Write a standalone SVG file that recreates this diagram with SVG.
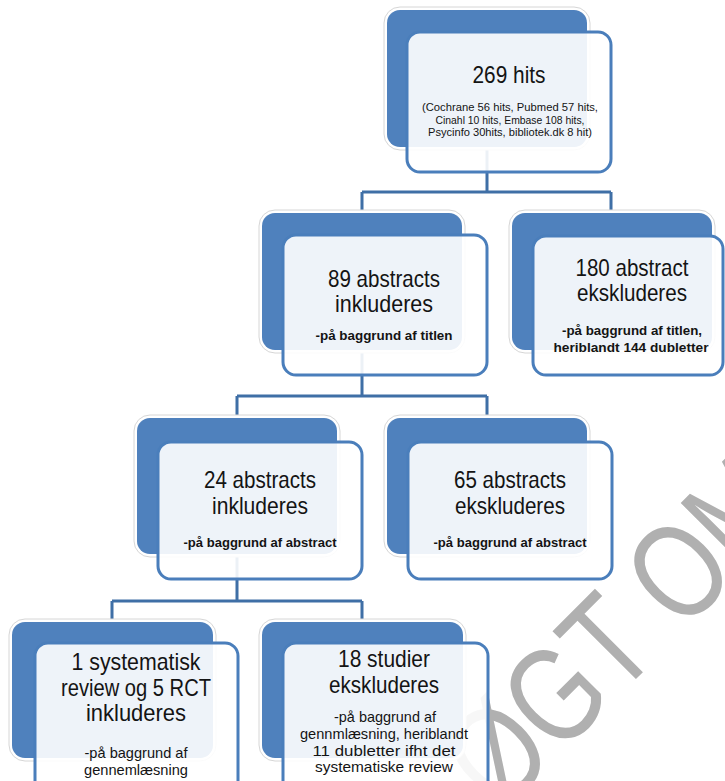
<svg xmlns="http://www.w3.org/2000/svg" width="725" height="781" viewBox="0 0 725 781">
<style>
.halo{fill:#fff;stroke:#d6d6d6;stroke-width:1}
.bg{fill:#4f81bd}
.fg{fill:#fff;fill-opacity:0.9;stroke:#4a7ebb;stroke-width:3}
.conn{fill:none;stroke:#3f6fa6;stroke-width:3}
text{font-family:"Liberation Sans",Arial,sans-serif;fill:#141414;text-anchor:middle}
.big{font-size:24px}
.sm{font-size:13.5px;font-weight:bold}
.sm2{font-size:15px}
.tiny{font-size:11px}
.wm{font-size:135px;fill:#b0b0b0;text-anchor:start}
</style>
<rect width="725" height="781" fill="#fff"/>
<text class="wm" x="0" y="0" transform="translate(500,815) rotate(-45)" textLength="428" lengthAdjust="spacingAndGlyphs">ØGT OM</text>
<g id="connectors">
<path class="conn" d="M487,147V192M362,192H611M362,192V213M611,192V213"/>
<path class="conn" d="M362,350V396M237,396H487M237,396V418M487,396V418"/>
<path class="conn" d="M237,554V601M112,601H362M112,601V622M362,601V622"/>
</g>
<g id="n1">
<rect class="halo" x="384" y="7" width="206" height="143" rx="16"/>
<rect class="bg" x="387" y="10" width="200" height="137" rx="13"/>
<rect class="fg" x="407" y="32" width="204" height="140" rx="13"/>
<text class="big" x="509" y="83" font-size="23" textLength="73" lengthAdjust="spacingAndGlyphs">269 hits</text>
<text class="tiny" x="510" y="111" textLength="176" lengthAdjust="spacingAndGlyphs">(Cochrane 56 hits, Pubmed 57 hits,</text>
<text class="tiny" x="510" y="123.5" textLength="149" lengthAdjust="spacingAndGlyphs">Cinahl 10 hits, Embase 108 hits,</text>
<text class="tiny" x="510" y="136" textLength="164" lengthAdjust="spacingAndGlyphs">Psycinfo 30hits, bibliotek.dk 8 hit)</text>
</g>
<g id="n2">
<rect class="halo" x="259" y="210" width="206" height="143" rx="16"/>
<rect class="bg" x="262" y="213" width="200" height="137" rx="13"/>
<rect class="fg" x="283" y="235" width="204" height="140" rx="13"/>
<text class="big" x="384" y="286.5" textLength="112" lengthAdjust="spacingAndGlyphs">89 abstracts</text>
<text class="big" x="384" y="311.5" textLength="98" lengthAdjust="spacingAndGlyphs">inkluderes</text>
<text class="sm" x="384" y="340" textLength="137" lengthAdjust="spacingAndGlyphs">-på baggrund af titlen</text>
</g>
<g id="n3">
<rect class="halo" x="509" y="210" width="206" height="143" rx="16"/>
<rect class="bg" x="512" y="213" width="200" height="137" rx="13"/>
<rect class="fg" x="533" y="236" width="190" height="139" rx="13"/>
<text class="big" x="632" y="276" textLength="113" lengthAdjust="spacingAndGlyphs">180 abstract</text>
<text class="big" x="632" y="301" textLength="110" lengthAdjust="spacingAndGlyphs">ekskluderes</text>
<text class="sm" x="632" y="335" textLength="140" lengthAdjust="spacingAndGlyphs">-på baggrund af titlen,</text>
<text class="sm" x="631" y="352" textLength="155" lengthAdjust="spacingAndGlyphs">heriblandt 144 dubletter</text>
</g>
<g id="n4">
<rect class="halo" x="134" y="415" width="206" height="142" rx="16"/>
<rect class="bg" x="137" y="418" width="200" height="136" rx="13"/>
<rect class="fg" x="158" y="442" width="204" height="137" rx="13"/>
<text class="big" x="260" y="488" textLength="112" lengthAdjust="spacingAndGlyphs">24 abstracts</text>
<text class="big" x="260" y="514" textLength="96" lengthAdjust="spacingAndGlyphs">inkluderes</text>
<text class="sm" x="260" y="546.5" textLength="153" lengthAdjust="spacingAndGlyphs">-på baggrund af abstract</text>
</g>
<g id="n5">
<rect class="halo" x="384" y="415" width="206" height="142" rx="16"/>
<rect class="bg" x="387" y="418" width="200" height="136" rx="13"/>
<rect class="fg" x="408" y="442" width="204" height="137" rx="13"/>
<text class="big" x="510" y="488" textLength="112" lengthAdjust="spacingAndGlyphs">65 abstracts</text>
<text class="big" x="510" y="513.5" textLength="110" lengthAdjust="spacingAndGlyphs">ekskluderes</text>
<text class="sm" x="510" y="546.5" textLength="153" lengthAdjust="spacingAndGlyphs">-på baggrund af abstract</text>
</g>
<g id="n6">
<rect class="halo" x="9" y="619" width="207" height="142" rx="16"/>
<rect class="bg" x="12" y="622" width="201" height="136" rx="13"/>
<rect class="fg" x="35" y="643" width="203" height="160" rx="13"/>
<text class="big" x="136" y="670" textLength="129" lengthAdjust="spacingAndGlyphs">1 systematisk</text>
<text class="big" x="136" y="695.5" textLength="150" lengthAdjust="spacingAndGlyphs">review og 5 RCT</text>
<text class="big" x="136" y="721" textLength="100" lengthAdjust="spacingAndGlyphs">inkluderes</text>
<text class="sm2" x="136" y="757.5" textLength="103" lengthAdjust="spacingAndGlyphs">-på baggrund af</text>
<text class="sm2" x="136" y="774.5" textLength="104" lengthAdjust="spacingAndGlyphs">gennemlæsning</text>
</g>
<g id="n7">
<rect class="halo" x="259" y="619" width="207" height="142" rx="16"/>
<rect class="bg" x="262" y="622" width="201" height="136" rx="13"/>
<rect class="fg" x="283" y="643" width="205" height="160" rx="13"/>
<text class="big" x="384" y="667" textLength="92" lengthAdjust="spacingAndGlyphs">18 studier</text>
<text class="big" x="384" y="692.5" textLength="110" lengthAdjust="spacingAndGlyphs">ekskluderes</text>
<text class="sm2" x="385" y="722" textLength="102" lengthAdjust="spacingAndGlyphs">-på baggrund af</text>
<text class="sm2" x="384" y="739" textLength="168" lengthAdjust="spacingAndGlyphs">gennmlæsning, heriblandt</text>
<text class="sm2" x="384" y="755.5" textLength="143" lengthAdjust="spacingAndGlyphs">11 dubletter ifht det</text>
<text class="sm2" x="384" y="772" textLength="138" lengthAdjust="spacingAndGlyphs">systematiske review</text>
</g>
</svg>
